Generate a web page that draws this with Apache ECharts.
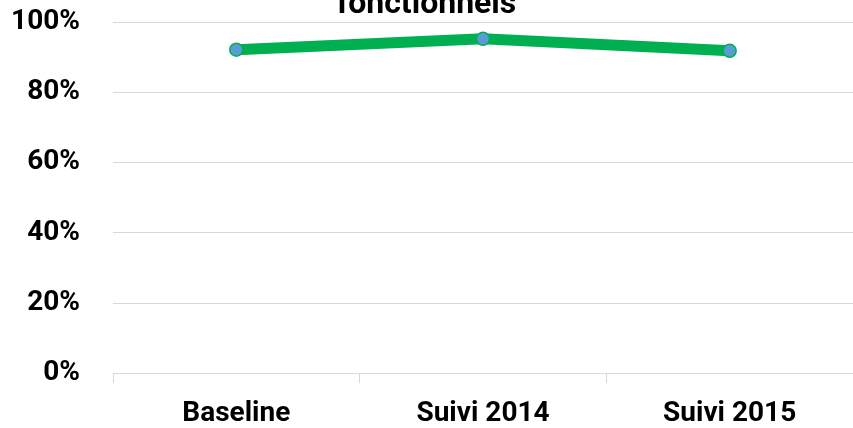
<!DOCTYPE html>
<html>
<head>
<meta charset="utf-8">
<script src="https://cdn.jsdelivr.net/npm/echarts@6/dist/echarts.min.js"></script>
<style>
    html, body { margin: 0; padding: 0; background: #fff; }
    #chart { width: 853px; height: 428px; }
</style>
</head>
<body>
<div id="chart"></div>
<script>
    // data
    var categories = ['Baseline', 'Suivi 2014', 'Suivi 2015'];
    var values = [92.1, 95.2, 91.8];
    var titleText = 'fonctionnels';

    var font = 'Roboto, "Noto Sans", sans-serif';
    var chart = echarts.init(document.getElementById('chart'));

    chart.setOption({
        animation: false,
        title: {
            text: titleText,
            left: 'center',
            top: -16,
            textStyle: { fontFamily: font, fontWeight: 'bold', fontSize: 32, color: '#000' }
        },
        grid: { left: 113, right: -7, top: 22, bottom: 53 },
        xAxis: {
            type: 'category',
            data: categories,
            boundaryGap: true,
            axisLine: { lineStyle: { color: '#d9d9d9', width: 1 } },
            axisTick: { show: true, length: 10, lineStyle: { color: '#d9d9d9' } },
            axisLabel: { margin: 27, fontFamily: font, fontWeight: 'bold', fontSize: 28, color: '#000' }
        },
        yAxis: {
            type: 'value',
            min: 0,
            max: 100,
            interval: 20,
            axisLine: { show: false },
            axisTick: { show: false },
            splitLine: { lineStyle: { color: '#d9d9d9', width: 1 } },
            axisLabel: {
                margin: 33,
                formatter: '{value}%',
                fontFamily: font, fontWeight: 'bold', fontSize: 28, color: '#000'
            }
        },
        series: [{
            type: 'line',
            data: values,
            symbol: 'circle',
            symbolSize: 13,
            lineStyle: { color: '#00b050', width: 11 },
            itemStyle: { color: '#5b9bd5', borderColor: '#00b050', borderWidth: 1.5 }
        }]
    });
</script>
</body>
</html>
